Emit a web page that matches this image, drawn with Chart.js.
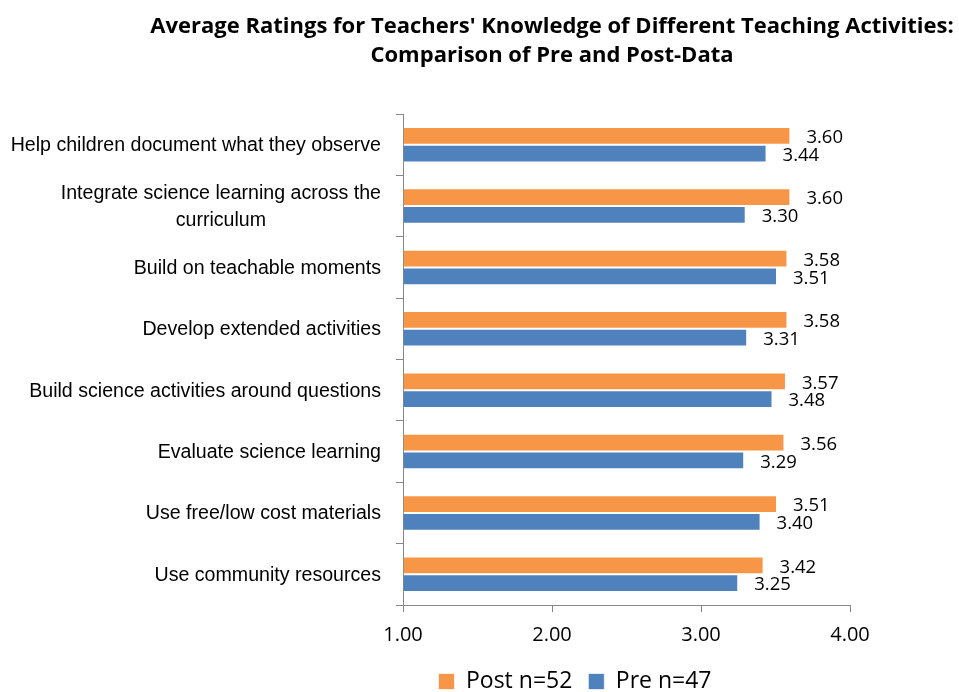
<!DOCTYPE html>
<html>
<head>
<meta charset="utf-8">
<script src="https://cdn.jsdelivr.net/npm/chart.js@4.4.1/dist/chart.umd.min.js"></script>
<style>
  html, body { margin: 0; padding: 0; background: #fff; }
  #wrap { width: 959px; height: 692px; }
</style>
</head>
<body>
<div id="wrap"><canvas id="ratingsChart"></canvas></div>
<script>
var titleLines = [
  "Average Ratings for Teachers' Knowledge of Different Teaching Activities:",
  "Comparison of Pre and Post-Data"
];
var activities = [
  ["Help children document what they observe"],
  ["Integrate science learning across the", "curriculum"],
  ["Build on teachable moments"],
  ["Develop extended activities"],
  ["Build science activities around questions"],
  ["Evaluate science learning"],
  ["Use free/low cost materials"],
  ["Use community resources"]
];
var postValues = [3.60, 3.60, 3.58, 3.58, 3.57, 3.56, 3.51, 3.42];
var preValues  = [3.44, 3.30, 3.51, 3.31, 3.48, 3.29, 3.40, 3.25];
var seriesNames = ["Post n=52", "Pre n=47"];
var axisTicks = [1, 2, 3, 4];

var orange = '#F79646';
var blue = '#4F81BD';
var axisGray = '#868686';

// title drawn by hand so it can sit off-centre like the original
var titlePlugin = {
  id: 'offsetTitle',
  afterDraw: function(chart) {
    var ctx = chart.ctx;
    ctx.save();
    ctx.fillStyle = '#000';
    ctx.font = 'bold 22px "Open Sans"';
    ctx.textAlign = 'center';
    ctx.textBaseline = 'middle';
    ctx.fillText(titleLines[0], 552, 27);
    ctx.fillText(titleLines[1], 552, 56);
    ctx.restore();
  }
};

// category names: block right-aligned to the axis, lines centred inside the block
var categoryLabels = {
  id: 'categoryLabels',
  afterDraw: function(chart) {
    var ctx = chart.ctx;
    var yScale = chart.scales.y;
    var rightX = yScale.right - 22;
    ctx.save();
    ctx.fillStyle = '#000';
    ctx.font = '19.6px "Liberation Sans"';
    ctx.textAlign = 'center';
    ctx.textBaseline = 'middle';
    activities.forEach(function(lines, i) {
      var y = yScale.getPixelForValue(i) + 1;
      var w = 0;
      lines.forEach(function(l) { w = Math.max(w, ctx.measureText(l).width); });
      var cx = rightX - w / 2;
      var lh = 27;
      var top = y - (lines.length - 1) * lh / 2;
      lines.forEach(function(l, k) { ctx.fillText(l, cx, top + k * lh); });
    });
    ctx.restore();
  }
};

var valueLabels = {
  id: 'valueLabels',
  afterDatasetsDraw: function(chart) {
    var ctx = chart.ctx;
    ctx.save();
    ctx.fillStyle = '#000';
    ctx.font = '18.5px "Open Sans"';
    ctx.textAlign = 'left';
    ctx.textBaseline = 'middle';
    chart.data.datasets.forEach(function(ds, di) {
      chart.getDatasetMeta(di).data.forEach(function(bar, i) {
        ctx.fillText(ds.data[i].toFixed(2), bar.x + 16, bar.y + 2);
      });
    });
    ctx.restore();
  }
};

var ctx1 = document.getElementById('ratingsChart').getContext('2d');
new Chart(ctx1, {
  type: 'bar',
  data: {
    labels: activities.map(function(a) { return a.join(' '); }),
    datasets: [
      {
        label: seriesNames[0],
        data: postValues,
        base: 1,
        backgroundColor: orange,
        borderColor: 'rgba(255,255,255,0.7)',
        borderWidth: 1,
        categoryPercentage: 0.58,
        barPercentage: 1.0
      },
      {
        label: seriesNames[1],
        data: preValues,
        base: 1,
        backgroundColor: blue,
        borderColor: 'rgba(255,255,255,0.7)',
        borderWidth: 1,
        categoryPercentage: 0.58,
        barPercentage: 1.0
      }
    ]
  },
  options: {
    indexAxis: 'y',
    responsive: true,
    maintainAspectRatio: false,
    animation: false,
    layout: {
      padding: { left: 300, right: 109, top: 114, bottom: -11 }
    },
    plugins: {
      title: { display: false },
      tooltip: { enabled: false },
      legend: {
        display: true,
        position: 'bottom',
        labels: {
          boxWidth: 16,
          boxHeight: 16,
          padding: 16,
          color: '#000',
          font: { family: 'Open Sans', size: 23 }
        }
      }
    },
    scales: {
      x: {
        min: 1,
        max: 4,
        afterBuildTicks: function(scale) {
          scale.ticks = axisTicks.map(function(v) { return { value: v }; });
        },
        afterFit: function(scale) { scale.height -= 4; },
        ticks: {
          color: '#000',
          padding: 11,
          font: { family: 'Open Sans', size: 20 },
          callback: function(v) { return Number(v).toFixed(2); }
        },
        grid: {
          drawOnChartArea: false,
          drawTicks: true,
          tickLength: 7,
          color: axisGray
        },
        border: { display: true, color: axisGray, width: 1 }
      },
      y: {
        afterFit: function(scale) { scale.width = 103; },
        ticks: { display: false },
        grid: {
          offset: true,
          drawOnChartArea: false,
          drawTicks: true,
          tickLength: 7,
          color: axisGray
        },
        border: { display: true, color: axisGray, width: 1 }
      }
    }
  },
  plugins: [titlePlugin, categoryLabels, valueLabels]
});
</script>
</body>
</html>
